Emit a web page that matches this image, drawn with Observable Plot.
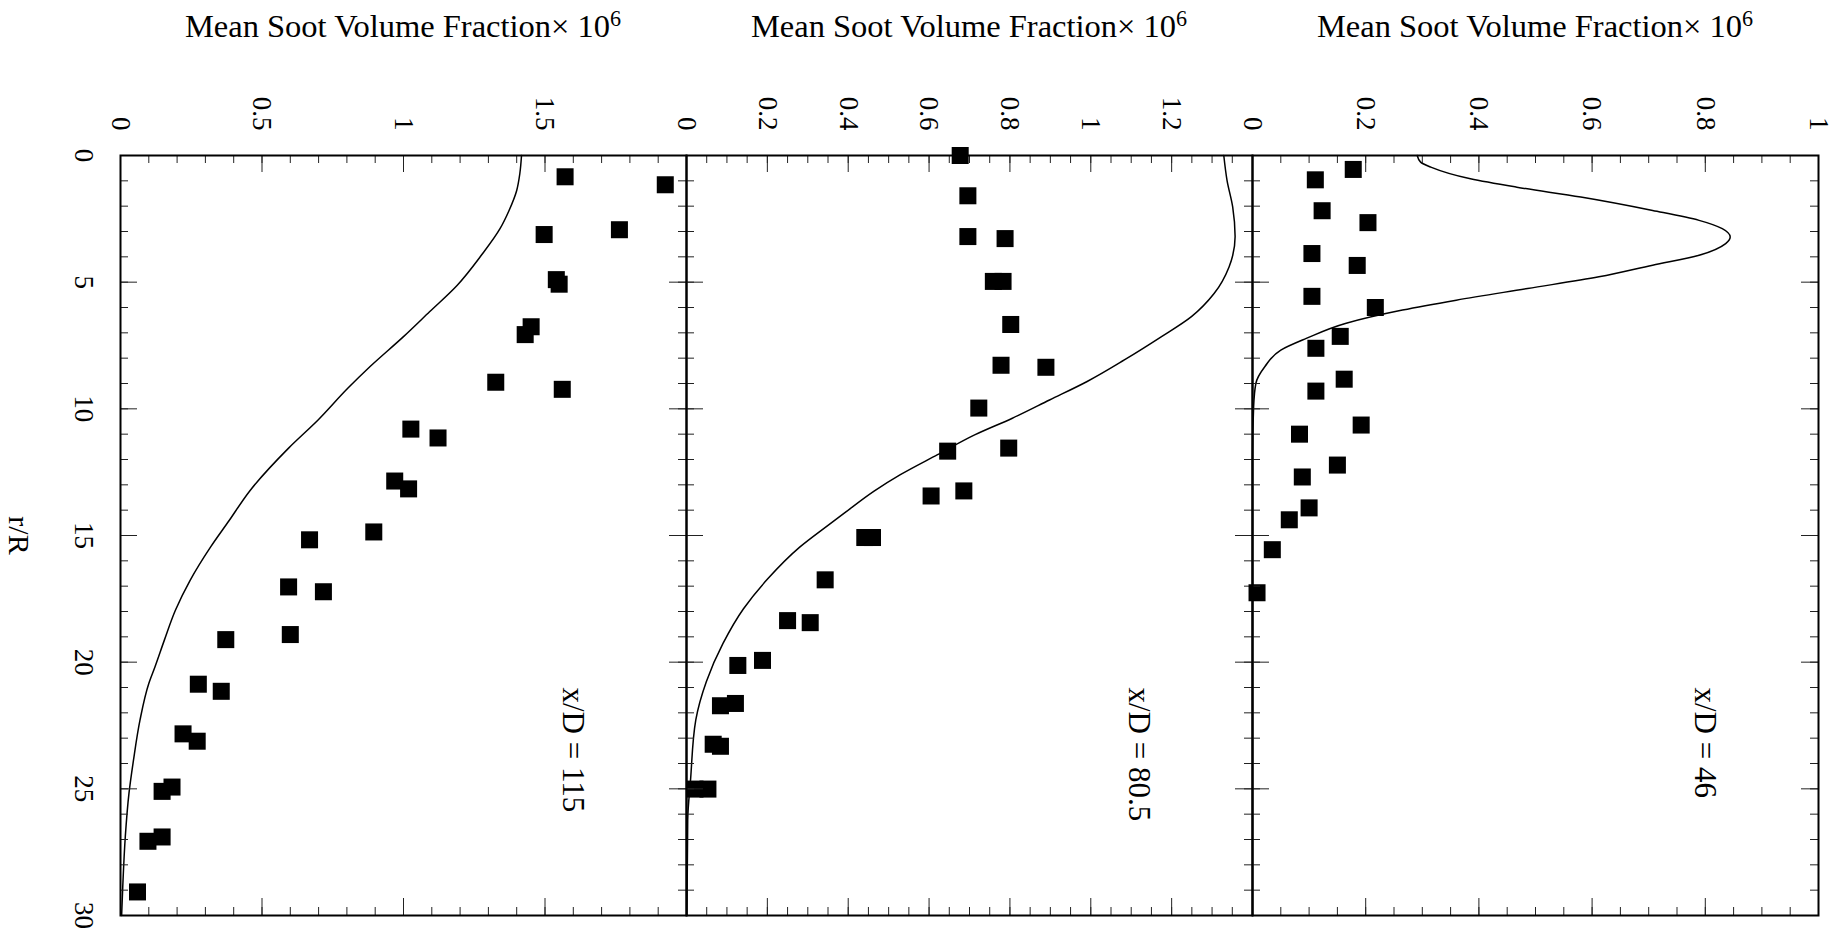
<!DOCTYPE html>
<html>
<head>
<meta charset="utf-8">
<script src="https://cdn.jsdelivr.net/npm/d3@7"></script>
<script src="https://cdn.jsdelivr.net/npm/@observablehq/plot@0.6"></script>
<style>
html, body { margin: 0; padding: 0; background: #fff; }
#chart { position: relative; width: 1838px; height: 936px; font-family: "Liberation Serif", "Times New Roman", serif; color: #000; overflow: hidden; }
.title { position: absolute; top: 10px; font-size: 32.5px; line-height: 32px; white-space: nowrap; transform: translateX(-50%); }
.title sup { font-size: 0.68em; line-height: 0; vertical-align: 0.5em; }
.panel { position: absolute; top: 0; }
</style>
</head>
<body>
<div id="chart"></div>
<script>
// ---------- data: [r/R, mean soot volume fraction x 1e6] ----------
const exp115 = [[0.84,1.571],[1.155,1.925],[2.93,1.763],[3.12,1.497],[4.9,1.540],[5.08,1.550],[6.76,1.451],[7.07,1.430],[8.95,1.326],[9.23,1.561],[10.8,1.026],[11.15,1.122],[12.85,0.969],[13.16,1.018],[14.86,0.895],[15.17,0.668],[17.03,0.594],[17.22,0.717],[18.91,0.600],[19.11,0.372],[20.87,0.275],[21.15,0.356],[22.83,0.221],[23.12,0.271],[24.93,0.182],[25.1,0.147],[26.9,0.147],[27.07,0.097],[29.07,0.060]];
const model115 = [[0,1.417],[0.72,1.411],[1.38,1.400],[2.17,1.373],[2.89,1.341],[3.94,1.275],[5.12,1.190],[6.17,1.092],[7.15,1.000],[8.33,0.882],[9.19,0.803],[10.43,0.699],[11.55,0.594],[13.25,0.456],[14.41,0.384],[15.46,0.318],[16.77,0.246],[17.95,0.194],[19.13,0.155],[20.18,0.122],[20.84,0.100],[22.28,0.069],[23.86,0.046],[25.17,0.030],[26.88,0.017],[28.85,0.008],[30,0.004]];

const exp805 = [[0,0.677],[1.59,0.696],[3.20,0.696],[3.28,0.788],[4.97,0.759],[4.97,0.783],[6.67,0.802],[8.28,0.778],[8.36,0.889],[9.97,0.723],[11.67,0.646],[11.55,0.797],[13.24,0.686],[13.44,0.605],[15.08,0.441],[15.08,0.460],[16.75,0.343],[18.36,0.250],[18.44,0.306],[19.93,0.188],[20.13,0.127],[21.63,0.121],[21.72,0.084],[23.32,0.084],[23.24,0.066],[25.01,0.021],[25.01,0.053]];
const model805 = [[0,1.329],[0.98,1.337],[2.03,1.351],[3.2,1.357],[4.4,1.342],[5.45,1.305],[6.36,1.249],[7.15,1.175],[8.07,1.083],[8.92,0.991],[9.65,0.898],[10.37,0.806],[11.02,0.714],[11.81,0.621],[12.6,0.529],[13.25,0.464],[14.11,0.391],[14.6,0.350],[15.46,0.280],[16.71,0.201],[17.89,0.141],[19.27,0.090],[20.77,0.049],[22.28,0.023],[24.65,0.010],[26.22,0.003],[30,0.001]];

const exp46 = [[0.55,0.178],[0.96,0.111],[2.18,0.123],[2.65,0.204],[3.87,0.105],[4.34,0.185],[5.56,0.105],[6.0,0.217],[7.14,0.155],[7.61,0.112],[8.83,0.162],[9.3,0.112],[10.64,0.192],[11.0,0.083],[12.22,0.150],[12.69,0.088],[13.91,0.100],[14.38,0.065],[15.56,0.035],[17.26,0.008]];
const model46 = [[0,0.291],[0.26,0.297],[0.46,0.315],[0.92,0.385],[1.25,0.467],[1.64,0.580],[2.17,0.707],[2.56,0.789],[2.89,0.830],[3.22,0.844],[3.48,0.836],[3.94,0.789],[4.33,0.707],[4.79,0.612],[5.25,0.486],[5.71,0.360],[6.1,0.265],[6.63,0.164],[7.22,0.095],[7.68,0.050],[8.33,0.022],[8.99,0.006],[9.91,0.002],[12,0],[30,0]];

// ---------- axes ----------
const rTickLabels = [0, 5, 10, 15, 20, 25, 30];
const rMinorTicks = d3.range(0, 31, 1);
const valueTicks115 = [0, 0.5, 1, 1.5];
const valueTicks805 = [0, 0.2, 0.4, 0.6, 0.8, 1, 1.2];
const valueTicks46 = [0, 0.2, 0.4, 0.6, 0.8, 1];
const panelLabels = ["x/D = 115", "x/D = 80.5", "x/D = 46"];
const titleText = "Mean Soot Volume Fraction\u00d7 10";
const titleSup = "6";
const rLabel = "r/R";

const FONT = '"Liberation Serif", "Times New Roman", serif';
const INNER_W = 566, INNER_H = 760, TOP = 155, H = 936;

const panels = [
  {domain: [0, 2], major: [0, 0.5, 1, 1.5, 2], minor: d3.range(0, 2.0001, 0.1), labels: valueTicks115, exp: exp115, model: model115, tag: panelLabels[0], showR: true},
  {domain: [0, 1.4], major: d3.range(0, 1.40001, 0.2), minor: d3.range(0, 1.40001, 0.05), labels: valueTicks805, exp: exp805, model: model805, tag: panelLabels[1], showR: false},
  {domain: [0, 1], major: d3.range(0, 1.00001, 0.2), minor: d3.range(0, 1.00001, 0.05), labels: valueTicks46, exp: exp46, model: model46, tag: panelLabels[2], showR: false}
];

const chart = document.getElementById("chart");
const toObj = (arr) => arr.map(([r, v]) => ({r, v}));

panels.forEach((p, i) => {
  const innerLeft = 120 + i * INNER_W;
  const mL = p.showR ? 120 : 12;
  const mR = 20;
  const tickStroke = "#222";
  const marks = [
    Plot.line(toObj(p.model), {x: "v", y: "r", curve: "monotone-y", stroke: "black", strokeWidth: 1.5}),
    Plot.dot(toObj(p.exp), {x: "v", y: "r", symbol: "square", r: 9.6, fill: "black"}),
    Plot.ruleX(p.minor, {x: d => d, stroke: tickStroke, strokeWidth: 1, insetBottom: INNER_H - 8}),
    Plot.ruleX(p.minor, {x: d => d, stroke: tickStroke, strokeWidth: 1, insetTop: INNER_H - 8}),
    Plot.ruleX(p.major, {x: d => d, stroke: tickStroke, strokeWidth: 1, insetBottom: INNER_H - 17}),
    Plot.ruleX(p.major, {x: d => d, stroke: tickStroke, strokeWidth: 1, insetTop: INNER_H - 17}),
    Plot.ruleY(rMinorTicks, {y: d => d, stroke: tickStroke, strokeWidth: 1, insetRight: INNER_W - 8}),
    Plot.ruleY(rMinorTicks, {y: d => d, stroke: tickStroke, strokeWidth: 1, insetLeft: INNER_W - 8}),
    Plot.ruleY(rTickLabels, {y: d => d, stroke: tickStroke, strokeWidth: 1, insetRight: INNER_W - 17}),
    Plot.ruleY(rTickLabels, {y: d => d, stroke: tickStroke, strokeWidth: 1, insetLeft: INNER_W - 17}),
    Plot.frame({stroke: "black", strokeWidth: 2}),
    Plot.text(p.labels, {x: d => d, frameAnchor: "top", text: d => String(d), rotate: 90, textAnchor: "end", lineAnchor: "middle", dy: -25, fontSize: 27, fill: "black"}),
    Plot.text([p.tag], {x: [p.domain[1] * 0.8], y: [21], text: d => d, rotate: 90, textAnchor: "start", lineAnchor: "middle", fontSize: 31, fill: "black"})
  ];
  if (p.showR) {
    marks.push(Plot.text(rTickLabels, {y: d => d, frameAnchor: "left", text: d => String(d), rotate: 90, textAnchor: "middle", lineAnchor: "top", dx: -26, fontSize: 27, fill: "black"}));
    marks.push(Plot.text([rLabel], {frameAnchor: "left", text: d => d, rotate: 90, textAnchor: "middle", lineAnchor: "middle", dx: -102, fontSize: 30, fill: "black"}));
  }
  const svg = Plot.plot({
    width: mL + INNER_W + mR,
    height: H,
    marginTop: TOP,
    marginBottom: H - TOP - INNER_H,
    marginLeft: mL,
    marginRight: mR,
    x: {domain: p.domain, axis: null},
    y: {domain: [0, 30], reverse: true, axis: null},
    style: {fontFamily: FONT, background: "transparent", overflow: "visible", maxWidth: "none"},
    marks
  });
  const wrap = document.createElement("div");
  wrap.className = "panel";
  wrap.style.left = (innerLeft - mL) + "px";
  wrap.appendChild(svg);
  chart.appendChild(wrap);

  const t = document.createElement("div");
  t.className = "title";
  t.style.left = (innerLeft + INNER_W / 2) + "px";
  t.textContent = titleText;
  const s = document.createElement("sup");
  s.textContent = titleSup;
  t.appendChild(s);
  chart.appendChild(t);
});
</script>
</body>
</html>
